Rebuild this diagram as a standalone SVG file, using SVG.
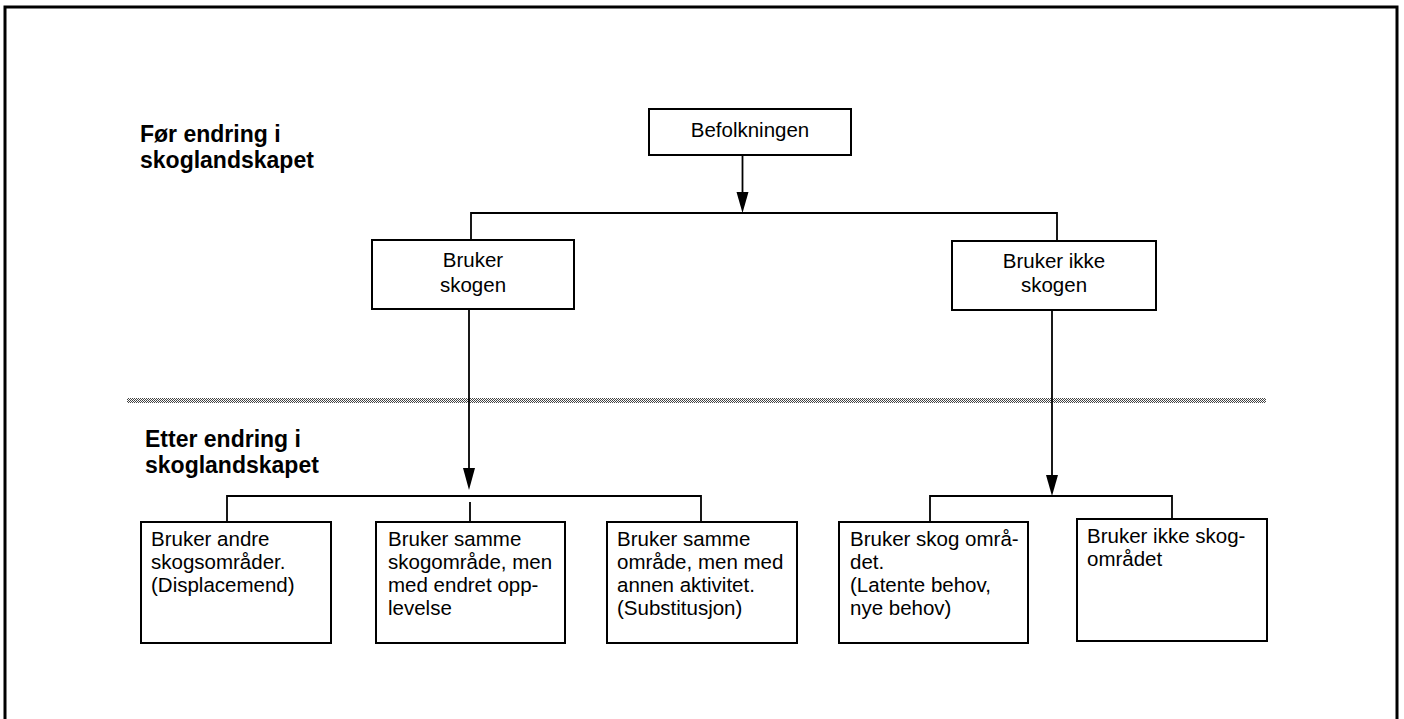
<svg xmlns="http://www.w3.org/2000/svg" width="1404" height="719" viewBox="0 0 1404 719">
<style>
.box{fill:#fff;stroke:#000;stroke-width:2}
.t{font-family:"Liberation Sans",Arial,sans-serif;font-size:20.5px;fill:#000}
.c{text-anchor:middle}
.h{font-family:"Liberation Sans",Arial,sans-serif;font-size:23px;font-weight:bold;fill:#000}
.ln{fill:none;stroke:#000;stroke-width:1.8}
.ah{fill:#000;stroke:none}
</style>
<defs>
<pattern id="chk" width="2" height="2" patternUnits="userSpaceOnUse">
<rect width="2" height="2" fill="#fff"/>
<rect width="1" height="1" fill="#444"/>
<rect x="1" y="1" width="1" height="1" fill="#444"/>
</pattern>
</defs>
<rect width="1404" height="719" fill="#fff"/>
<path id="frame" d="M5,719 V7 H1397 V719" fill="none" stroke="#000" stroke-width="3"/>
<g id="labels">
<text class="h" x="140" y="142">Før endring i</text>
<text class="h" x="140" y="168">skoglandskapet</text>
<rect id="divider" x="127" y="398" width="1139" height="5" fill="url(#chk)"/>
<text class="h" x="145" y="447">Etter endring i</text>
<text class="h" x="145" y="473">skoglandskapet</text>
</g>
<g id="connectors">
<line class="ln" x1="742.5" y1="155" x2="742.5" y2="194"/>
<polygon class="ah" points="736.5,192 748.5,192 742.5,213"/>
<path class="ln" d="M471,240 V213 H1057 V241"/>
<line class="ln" x1="469" y1="309" x2="469" y2="470"/>
<polygon class="ah" points="463,468 475,468 469,490"/>
<path class="ln" d="M227,522 V496 H701 V522"/>
<line class="ln" x1="470" y1="502" x2="470" y2="522"/>
<line class="ln" x1="1052" y1="310" x2="1052" y2="477"/>
<polygon class="ah" points="1046,475 1058,475 1052,496"/>
<path class="ln" d="M930,522 V496 H1172 V519"/>
</g>
<g id="befolkningen">
<rect class="box" x="649" y="109" width="202" height="46"/>
<text class="t c" x="750" y="137">Befolkningen</text>
</g>
<g id="bruker-skogen">
<rect class="box" x="372" y="240" width="202" height="69"/>
<text class="t c" x="473" y="267">Bruker</text>
<text class="t c" x="473" y="292">skogen</text>
</g>
<g id="bruker-ikke-skogen">
<rect class="box" x="952" y="241" width="204" height="69"/>
<text class="t c" x="1054" y="268">Bruker ikke</text>
<text class="t c" x="1054" y="292">skogen</text>
</g>
<g id="andre-omrader">
<rect class="box" x="141" y="522" width="190" height="121"/>
<text class="t" x="151" y="546">Bruker andre</text>
<text class="t" x="151" y="569">skogsområder.</text>
<text class="t" x="151" y="592">(Displacemend)</text>
</g>
<g id="endret-opplevelse">
<rect class="box" x="376" y="522" width="189" height="121"/>
<text class="t" x="388" y="546">Bruker samme</text>
<text class="t" x="388" y="569">skogområde, men</text>
<text class="t" x="388" y="592">med endret opp-</text>
<text class="t" x="388" y="615">levelse</text>
</g>
<g id="substitusjon">
<rect class="box" x="607" y="522" width="190" height="121"/>
<text class="t" x="617" y="546">Bruker samme</text>
<text class="t" x="617" y="569">område, men med</text>
<text class="t" x="617" y="592">annen aktivitet.</text>
<text class="t" x="617" y="615">(Substitusjon)</text>
</g>
<g id="latente-behov">
<rect class="box" x="839" y="522" width="189" height="121"/>
<text class="t" x="850" y="546">Bruker skog områ-</text>
<text class="t" x="850" y="569">det.</text>
<text class="t" x="850" y="592">(Latente behov,</text>
<text class="t" x="850" y="615">nye behov)</text>
</g>
<g id="ikke-skogomradet">
<rect class="box" x="1077" y="519" width="190" height="122"/>
<text class="t" x="1087" y="543">Bruker ikke skog-</text>
<text class="t" x="1087" y="566">området</text>
</g>
</svg>
